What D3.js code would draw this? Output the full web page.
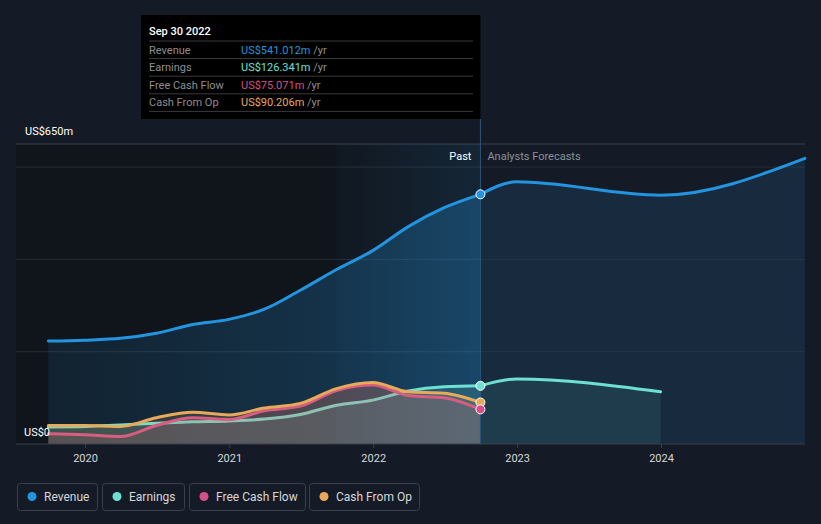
<!DOCTYPE html>
<html>
<head>
<meta charset="utf-8">
<script src="https://cdn.jsdelivr.net/npm/d3@7"></script>
<style>
  html, body { margin: 0; padding: 0; background: #151b26; }
  body { width: 821px; height: 524px; overflow: hidden; font-family: Roboto, "Noto Sans", sans-serif; }
  svg { display: block; }
</style>
</head>
<body>
<div id="chart"></div>
<script>
// quarterly history (trailing twelve months), US$ millions
var pastDates = ["2019-09-30", "2019-12-31", "2020-03-31", "2020-06-30", "2020-09-30", "2020-12-31",
  "2021-03-31", "2021-06-30", "2021-09-30", "2021-12-31", "2022-03-31", "2022-06-30", "2022-09-30"];
var revenuePast = [223, 225, 229, 240, 259, 270, 292, 333, 378, 419, 471, 512, 541];
var earningsPast = [37, 38, 41, 45, 48, 50, 54, 64, 84, 95, 115, 124, 126];
var fcfPast = [22, 20, 16, 40, 57, 53, 72, 82, 116, 128, 105, 100, 75];
var cfoPast = [40, 40, 38, 57, 69, 63, 78, 88, 120, 133, 113, 110, 90];

// analyst forecasts
var revenueForecastDates = ["2022-09-30", "2022-12-31", "2023-12-31", "2024-12-31"];
var revenueForecast = [541, 568, 539, 619];
var earningsForecastDates = ["2022-09-30", "2022-12-31", "2023-12-31"];
var earningsForecast = [126, 141, 113];

var yearTicks = [2020, 2021, 2022, 2023, 2024];

var colors = { revenue: "#2394df", earnings: "#6ee0d2", fcf: "#d4508a", cfo: "#e8a95a" };

var width = 821, height = 524;
// plot box (named so they don't clash with window.top)
var plotLeft = 16, plotRight = 805, plotTop = 144, plotBottom = 444;

var parse = d3.timeParse("%Y-%m-%d");
function zip(dates, vals) {
  return dates.map(function (d, i) { return { date: parse(d), value: vals[i] }; });
}

var x = d3.scaleTime()
  .domain([new Date(2020, 0, 1), new Date(2024, 0, 1)])
  .range([85, 661]);
var y = d3.scaleLinear().domain([0, 650]).range([plotBottom, plotTop]);

var svg = d3.select("#chart").append("svg")
  .attr("width", width).attr("height", height);
var defs = svg.append("defs");

function hGrad(id, color, a0, a1) {
  var g = defs.append("linearGradient").attr("id", id)
    .attr("x1", "0%").attr("x2", "100%").attr("y1", "0%").attr("y2", "0%");
  g.append("stop").attr("offset", "0%").attr("stop-color", color).attr("stop-opacity", a0);
  g.append("stop").attr("offset", "100%").attr("stop-color", color).attr("stop-opacity", a1);
}
hGrad("revPast", colors.revenue, 0.1, 0.3);
hGrad("band", "#2a7fc0", 0.03, 0.16);

var nowX = x(parse("2022-09-30"));
var bandX = x(parse("2021-09-30"));

// past background
svg.append("rect").attr("x", plotLeft).attr("y", plotTop).attr("width", nowX - plotLeft)
  .attr("height", plotBottom - plotTop).attr("fill", "#10151c");

// grid
svg.selectAll(".grid").data([200, 400, 600]).enter().append("line")
  .attr("x1", plotLeft).attr("x2", plotRight)
  .attr("y1", function (d) { return y(d); }).attr("y2", function (d) { return y(d); })
  .attr("stroke", "#262c36").attr("stroke-width", 1);
svg.append("line").attr("x1", plotLeft).attr("x2", plotRight).attr("y1", plotTop).attr("y2", plotTop)
  .attr("stroke", "#3a404a");

var area = d3.area().curve(d3.curveMonotoneX)
  .x(function (d) { return x(d.date); })
  .y0(plotBottom).y1(function (d) { return y(d.value); });
var line = d3.line().curve(d3.curveMonotoneX)
  .x(function (d) { return x(d.date); })
  .y(function (d) { return y(d.value); });

var revP = zip(pastDates, revenuePast), earnP = zip(pastDates, earningsPast),
  fcfP = zip(pastDates, fcfPast), cfoP = zip(pastDates, cfoPast);
var revF = zip(revenueForecastDates, revenueForecast), earnF = zip(earningsForecastDates, earningsForecast);

function drawLine(data, color) {
  svg.append("path").datum(data).attr("d", line).attr("fill", "none")
    .attr("stroke", color).attr("stroke-width", 3).attr("stroke-linecap", "round");
}

// revenue
svg.append("path").datum(revF).attr("d", area).attr("fill", colors.revenue).attr("fill-opacity", 0.13);
svg.append("path").datum(revP).attr("d", area).attr("fill", "url(#revPast)");
svg.append("rect").attr("x", bandX).attr("y", plotTop).attr("width", nowX - bandX)
  .attr("height", plotBottom - plotTop).attr("fill", "url(#band)");
drawLine(revP, colors.revenue);
drawLine(revF, colors.revenue);

// earnings forecast
svg.append("path").datum(earnF).attr("d", area).attr("fill", colors.earnings).attr("fill-opacity", 0.1);
drawLine(earnF, colors.earnings);

// past series, each area then its line, so later fills tint earlier lines
[[earnP, colors.earnings], [fcfP, colors.fcf], [cfoP, colors.cfo]].forEach(function (s) {
  svg.append("path").datum(s[0]).attr("d", area).attr("fill", s[1]).attr("fill-opacity", 0.16);
  drawLine(s[0], s[1]);
});

// now line
svg.append("line").attr("x1", nowX).attr("x2", nowX).attr("y1", 119).attr("y2", plotBottom)
  .attr("stroke", "#2d5678").attr("stroke-width", 1);

// markers at the last reported value
[[revenuePast, colors.revenue], [earningsPast, colors.earnings], [cfoPast, colors.cfo], [fcfPast, colors.fcf]]
  .forEach(function (s) {
    svg.append("circle").attr("cx", nowX).attr("cy", y(s[0][s[0].length - 1])).attr("r", 4.5)
      .attr("fill", s[1]).attr("stroke", "#fff").attr("stroke-width", 1);
  });

// axis
svg.append("line").attr("x1", plotLeft).attr("x2", plotRight).attr("y1", plotBottom).attr("y2", plotBottom)
  .attr("stroke", "#3a404a");
var xAxis = svg.append("g").attr("transform", "translate(0," + plotBottom + ")")
  .call(d3.axisBottom(x).tickValues(yearTicks.map(function (yr) { return new Date(yr, 0, 1); }))
    .tickFormat(d3.timeFormat("%Y")).tickSize(4).tickPadding(6));
xAxis.select(".domain").remove();
xAxis.selectAll("line").attr("stroke", "#3a404a");
xAxis.selectAll("text").attr("fill", "#d5d7db").style("font-size", "11px").style("font-family", "Roboto");

// labels
svg.append("text").attr("x", 25).attr("y", 135).text("US$650m")
  .attr("fill", "#fff").style("font-size", "11px");
svg.append("text").attr("x", 24).attr("y", 436).text("US$0")
  .attr("fill", "#fff").style("font-size", "11px");
svg.append("text").attr("x", nowX - 9).attr("y", 160).attr("text-anchor", "end").text("Past")
  .attr("fill", "#fff").style("font-size", "11px");
svg.append("text").attr("x", nowX + 7).attr("y", 160).text("Analysts Forecasts")
  .attr("fill", "#8b9099").style("font-size", "11px");

// tooltip
var tip = svg.append("g");
tip.append("rect").attr("x", 141).attr("y", 15).attr("width", nowX - 141).attr("height", 104).attr("fill", "#000");
tip.append("text").attr("x", 149).attr("y", 35).text("Sep 30 2022")
  .attr("fill", "#fff").style("font-size", "11px").style("font-weight", 500);
var rows = [
  ["Revenue", "US$541.012m", colors.revenue],
  ["Earnings", "US$126.341m", colors.earnings],
  ["Free Cash Flow", "US$75.071m", colors.fcf],
  ["Cash From Op", "US$90.206m", colors.cfo]
];
rows.forEach(function (r, i) {
  var ry = 41 + i * 17.6;
  tip.append("line").attr("x1", 149).attr("x2", 473).attr("y1", ry).attr("y2", ry).attr("stroke", "#3a3a3a");
  tip.append("text").attr("x", 149).attr("y", ry + 12.5).text(r[0])
    .attr("fill", "#8e8e8e").style("font-size", "11px");
  var t = tip.append("text").attr("x", 241).attr("y", ry + 12.5).style("font-size", "11px");
  t.append("tspan").text(r[1]).attr("fill", r[2]);
  t.append("tspan").text(" /yr").attr("fill", "#8e8e8e");
});
tip.append("line").attr("x1", 149).attr("x2", 473).attr("y1", 111.4).attr("y2", 111.4).attr("stroke", "#3a3a3a");

// legend
var legendItems = [["Revenue", colors.revenue, 17, 80], ["Earnings", colors.earnings, 102, 82],
  ["Free Cash Flow", colors.fcf, 189, 116], ["Cash From Op", colors.cfo, 309, 110]];
var lg = svg.append("g");
legendItems.forEach(function (d) {
  lg.append("rect").attr("x", d[2] + 0.5).attr("y", 483.5).attr("width", d[3]).attr("height", 27)
    .attr("rx", 3).attr("fill", "none").attr("stroke", "#3a404a");
  lg.append("circle").attr("cx", d[2] + 15).attr("cy", 496.5).attr("r", 4.5).attr("fill", d[1]);
  lg.append("text").attr("x", d[2] + 27).attr("y", 501).text(d[0])
    .attr("fill", "#d5d7db").style("font-size", "12px");
});
</script>
</body>
</html>
